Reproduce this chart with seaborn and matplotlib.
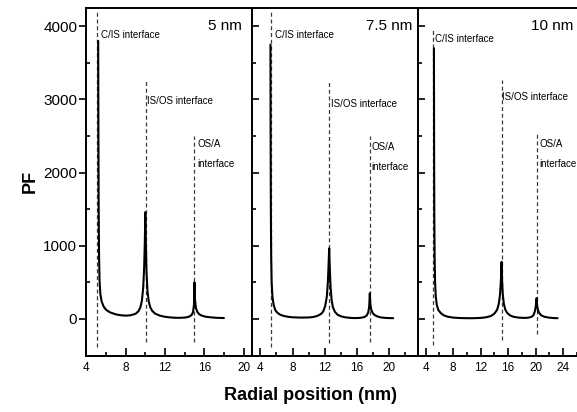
import matplotlib
matplotlib.use("Agg")
import matplotlib.pyplot as plt
from matplotlib.ticker import MultipleLocator, FixedLocator
import numpy as np
import pandas as pd
import seaborn as sns

# Shell thickness of each core/shell/shell particle
shells = ["5 nm", "7.5 nm", "10 nm"]

# Radial PF profiles (x in nm, PF)
r_5 = [5.2, 5.22, 5.25, 5.29, 5.34, 5.42, 5.55, 5.75, 6.0, 6.4, 7.0, 7.5, 8.0, 8.5,
       9.0, 9.3, 9.5, 9.65, 9.78, 9.88, 9.95, 10.0, 10.05, 10.12, 10.22, 10.35, 10.5,
       10.7, 11.0, 11.5, 12.0, 12.5, 13.0, 13.5, 14.0, 14.4, 14.7, 14.85, 14.95, 15.0,
       15.05, 15.15, 15.3, 15.5, 15.8, 16.2, 16.7, 17.3, 18.0]
pf_5 = [3800, 2600, 1500, 850, 520, 340, 240, 170, 125, 90, 62, 50, 45, 50,
        70, 105, 160, 250, 420, 700, 1060, 1460, 1060, 640, 380, 235, 160,
        110, 72, 44, 29, 21, 16, 15, 18, 28, 52, 90, 190, 500,
        270, 150, 95, 62, 42, 29, 21, 15, 12]

r_75 = [5.25, 5.27, 5.3, 5.34, 5.4, 5.5, 5.65, 5.85, 6.1, 6.5, 7.0, 7.5, 8.0, 9.0,
        10.0, 10.5, 11.0, 11.5, 11.8, 12.05, 12.25, 12.38, 12.47, 12.55, 12.62, 12.72,
        12.85, 13.0, 13.25, 13.6, 14.0, 14.5, 15.0, 15.5, 16.0, 16.5, 16.9, 17.2, 17.4,
        17.52, 17.6, 17.67, 17.78, 17.95, 18.2, 18.6, 19.0, 19.6, 20.5]
pf_75 = [3750, 2600, 1500, 850, 500, 300, 190, 120, 85, 55, 38, 28, 22, 18,
         20, 25, 38, 65, 100, 175, 300, 490, 730, 965, 710, 440,
         260, 165, 98, 57, 36, 23, 16, 12, 12, 16, 25, 45, 88,
         165, 350, 195, 125, 82, 52, 31, 20, 13, 10]

r_10 = [5.2, 5.22, 5.25, 5.3, 5.37, 5.47, 5.62, 5.85, 6.2, 6.6, 7.2, 8.0, 9.0, 10.0,
        11.0, 12.0, 12.8, 13.5, 14.0, 14.4, 14.65, 14.82, 14.95, 15.05, 15.12, 15.22,
        15.38, 15.6, 15.9, 16.3, 16.8, 17.5, 18.3, 18.9, 19.4, 19.7, 19.9, 20.05, 20.15,
        20.22, 20.35, 20.55, 20.85, 21.3, 22.0, 22.6, 23.2]
pf_10 = [3700, 2600, 1500, 850, 500, 300, 190, 120, 80, 50, 30, 18, 12, 10,
         10, 14, 22, 40, 72, 125, 210, 330, 530, 780, 540, 340,
         205, 125, 78, 47, 29, 18, 14, 16, 28, 52, 105, 185, 285,
         185, 120, 78, 47, 29, 17, 12, 10]

profiles = [(r_5, pf_5), (r_75, pf_75), (r_10, pf_10)]

# Interface positions (nm) for each particle: C/IS, IS/OS, OS/A
interfaces = [[5.1, 10.05, 15.0], [5.3, 12.55, 17.6], [5.1, 15.1, 20.2]]
# Extent of the dashed interface markers (PF units)
marker_top = [[4200, 3250, 2500], [4200, 3250, 2500], [3970, 3270, 2560]]
marker_bottom = [[-380, -310, -310], [-380, -330, -310], [-360, -290, -200]]

interface_labels = ["C/IS interface", "IS/OS interface", "OS/A\n\ninterface"]

x_limits = [(4, 20.9), (2.92, 23.55), (2.88, 27.05)]
x_tick_labels = [[4, 8, 12, 16, 20], [4, 8, 12, 16, 20], [4, 8, 12, 16, 20, 24]]
y_ticks = [0, 1000, 2000, 3000, 4000]

sns.set_style("ticks")
plt.rcParams["font.family"] = ["Liberation Sans", "DejaVu Sans"]
plt.rcParams.update({
    "axes.linewidth": 1.4,
    "axes.edgecolor": "black",
    "text.color": "black",
    "axes.labelcolor": "black",
    "xtick.color": "black",
    "ytick.color": "black",
})

W, H = 577, 412
fig = plt.figure(figsize=(W / 100, H / 100), dpi=100)

left_px = [86.4, 251.7, 418.0]
panel_w = 166.0
top_px, bot_px = 8.0, 355.5

# label anchor points (nm, PF) next to each interface
label_pos = [
    [(5.46, 3877), (10.16, 2980), (15.28, 2260)],
    [(5.86, 3877), (12.75, 2935), (17.82, 2210)],
    [(5.31, 3832), (15.16, 3035), (20.5, 2250)],
]

axes = []
for i in range(3):
    ax = fig.add_axes([left_px[i] / W, 1 - bot_px / H, panel_w / W, (bot_px - top_px) / H])
    axes.append(ax)
    r, pf = profiles[i]
    df = pd.DataFrame({"r": r, "pf": pf})
    ax.vlines(interfaces[i], marker_bottom[i], marker_top[i], colors="#3a3a3a",
              linestyles=(0, (3.2, 2.2)), linewidth=0.9, zorder=1)
    sns.lineplot(data=df, x="r", y="pf", ax=ax, color="black", linewidth=1.5,
                 sort=False, estimator=None, zorder=3)
    for lab, (lx, ly) in zip(interface_labels, label_pos[i]):
        ax.text(lx, ly, lab, fontsize=7, ha="left", va="center", linespacing=1.0)

    ax.set_xlim(*x_limits[i])
    ax.set_ylim(-500, 4250)
    ax.xaxis.set_major_locator(FixedLocator(x_tick_labels[i]))
    ax.xaxis.set_minor_locator(MultipleLocator(2))
    ax.yaxis.set_major_locator(FixedLocator(y_ticks))
    ax.yaxis.set_minor_locator(MultipleLocator(500))
    ax.tick_params(axis="x", which="major", direction="in", length=5.5, width=1.2,
                   labelsize=8.5, pad=5)
    ax.tick_params(axis="x", which="minor", direction="in", length=3, width=1.2)
    ax.set_xlabel("")
    ax.set_ylabel("")
    for s in ax.spines.values():
        s.set_linewidth(1.4)
        s.set_visible(True)
    if i == 0:
        ax.tick_params(axis="y", which="major", direction="out", length=5, width=1.2,
                       labelsize=11, pad=1.5)
        ax.tick_params(axis="y", which="minor", direction="in", length=3, width=1.2)
    else:
        ax.tick_params(axis="y", which="major", direction="in", length=5, width=1.2,
                       labelleft=False)
        ax.tick_params(axis="y", which="minor", direction="in", length=3, width=1.2)

axes[0].text(0.935, 0.948, shells[0], transform=axes[0].transAxes, ha="right",
             va="center", fontsize=11)
axes[1].text(0.97, 0.948, shells[1], transform=axes[1].transAxes, ha="right",
             va="center", fontsize=11)
axes[2].text((531 - 418) / panel_w, 0.948, shells[2], transform=axes[2].transAxes,
             ha="left", va="center", fontsize=11)

axes[0].set_ylabel("PF", fontsize=13, fontweight="bold", labelpad=3)
fig.text(310.7 / W, 1 - 395 / H, "Radial position (nm)", ha="center", va="center",
         fontsize=13, fontweight="bold")

fig.savefig("out.png", dpi=100)
